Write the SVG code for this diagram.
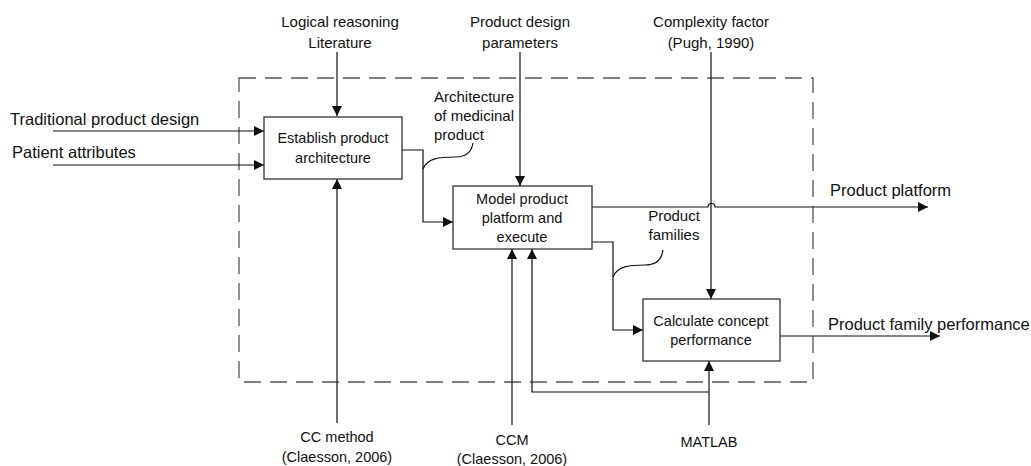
<svg xmlns="http://www.w3.org/2000/svg" width="1031" height="466" viewBox="0 0 1031 466">
<defs>
<marker id="ah" viewBox="0 0 10 10" refX="10" refY="5" markerWidth="10" markerHeight="10" markerUnits="userSpaceOnUse" orient="auto">
<path d="M0,0 L10,5 L0,10 Z" fill="#111"/>
</marker>
<style>
text{font-family:"Liberation Sans",Arial,sans-serif;fill:#111;}
.big{font-size:16.5px;}
.mid{font-size:15px;}
.sm{font-size:14.5px;}
.box{fill:#fff;stroke:#333;stroke-width:1.3;}
.c{fill:none;stroke:#111;stroke-width:1.2;}
.ca{fill:none;stroke:#111;stroke-width:1.2;marker-end:url(#ah);}
</style>
</defs>
<rect x="239" y="78" width="574" height="304" fill="none" stroke="#555" stroke-width="1.3" stroke-dasharray="17,9"/>
<g id="connectors">
<path class="ca" d="M53,131 H264"/>
<path class="ca" d="M53,165 H264"/>
<path class="ca" d="M337,52 V116"/>
<path class="ca" d="M337,423 V179"/>
<path class="ca" d="M402,150 H423 V222 H453"/>
<path class="ca" d="M520,52 V186"/>
<path class="ca" d="M592,207 H708 a3.5,3.5 0 0 1 7,0 H928"/>
<path class="ca" d="M711,52 V299"/>
<path class="ca" d="M592,242 H613 V330 H643"/>
<path class="ca" d="M780,336 H940"/>
<path class="ca" d="M709,425 V361"/>
<path class="ca" d="M709,392 H532 V249"/>
<path class="ca" d="M512,425 V249"/>
<path class="c" d="M423,169 C427,158 440,157 455,157 C468,157 472,150 473,143"/>
<path class="c" d="M613,277 C617,266 630,265 645,265 C658,265 662,258 663,250"/>
</g>
<g id="establish">
<rect class="box" x="264" y="117" width="138" height="62"/>
<text class="sm" x="333" y="143" text-anchor="middle">Establish product</text>
<text class="sm" x="333" y="163" text-anchor="middle">architecture</text>
</g>
<g id="model">
<rect class="box" x="453" y="186" width="139" height="63"/>
<text class="sm" x="522" y="204" text-anchor="middle">Model product</text>
<text class="sm" x="522" y="223" text-anchor="middle">platform and</text>
<text class="sm" x="522" y="242" text-anchor="middle">execute</text>
</g>
<g id="calc">
<rect class="box" x="643" y="299" width="137" height="62"/>
<text class="sm" x="711" y="326" text-anchor="middle">Calculate concept</text>
<text class="sm" x="711" y="345" text-anchor="middle">performance</text>
</g>
<g id="labels">
<text class="big" x="10" y="125">Traditional product design</text>
<text class="big" x="12" y="158">Patient attributes</text>
<text class="mid" x="340" y="27" text-anchor="middle">Logical reasoning</text>
<text class="mid" x="340" y="48" text-anchor="middle">Literature</text>
<text class="mid" x="520" y="27" text-anchor="middle">Product design</text>
<text class="mid" x="520" y="48" text-anchor="middle">parameters</text>
<text class="mid" x="711" y="27" text-anchor="middle">Complexity factor</text>
<text class="mid" x="711" y="48" text-anchor="middle">(Pugh, 1990)</text>
<text class="mid" x="434" y="102">Architecture</text>
<text class="mid" x="434" y="121">of medicinal</text>
<text class="mid" x="434" y="140">product</text>
<text class="mid" x="674" y="221" text-anchor="middle">Product</text>
<text class="mid" x="674" y="240" text-anchor="middle">families</text>
<text class="big" x="830" y="196">Product platform</text>
<text class="big" x="828" y="330">Product family performance</text>
<text class="sm" x="337" y="442" text-anchor="middle">CC method</text>
<text class="sm" x="337" y="462" text-anchor="middle">(Claesson, 2006)</text>
<text class="sm" x="512" y="445" text-anchor="middle">CCM</text>
<text class="sm" x="512" y="464" text-anchor="middle">(Claesson, 2006)</text>
<text class="sm" x="709" y="447" text-anchor="middle">MATLAB</text>
</g>
</svg>
